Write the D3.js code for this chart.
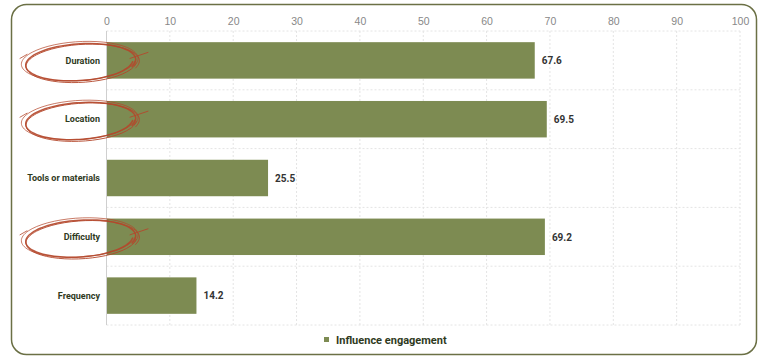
<!DOCTYPE html>
<html><head><meta charset="utf-8">
<script src="https://cdn.jsdelivr.net/npm/d3@7"></script>
<style>body{margin:0;background:#fff;} svg{display:block;font-family:Roboto,"Noto Sans",sans-serif;}</style>
</head><body>
<svg id="c" width="768" height="359"></svg>
<script>
const categories = ["Duration","Location","Tools or materials","Difficulty","Frequency"];
const values = [67.6, 69.5, 25.5, 69.2, 14.2];
const tickValues = [0,10,20,30,40,50,60,70,80,90,100];
const circled = ["Duration","Location","Difficulty"];
const seriesName = "Influence engagement";

const svg = d3.select("#c");
svg.append("rect").attr("x",11.5).attr("y",4.5).attr("width",745).attr("height",350)
  .attr("rx",15).attr("fill","#fff").attr("stroke","#6b7045").attr("stroke-width",1.5);

const x = d3.scaleLinear().domain([0,100]).range([106.5,740]);
const y = d3.scaleBand().domain(categories).range([31,325]).paddingInner(0.38).paddingOuter(0.19);
const yb = d3.scaleBand().domain(categories).range([31,325]);

// grid
const g = svg.append("g");
g.selectAll("line.v").data(tickValues.slice(1)).join("line")
  .attr("x1",d=>x(d)).attr("x2",d=>x(d)).attr("y1",31).attr("y2",325)
  .attr("stroke","#e4e4e4").attr("stroke-dasharray","2,2");
const hl = categories.map(c=>yb(c)).concat([325]);
g.selectAll("line.h").data(hl).join("line")
  .attr("x1",106.5).attr("x2",740).attr("y1",d=>d).attr("y2",d=>d)
  .attr("stroke","#e4e4e4").attr("stroke-dasharray","2,2");

// top axis
const ax = svg.append("g").attr("transform","translate(0,31)")
  .call(d3.axisTop(x).tickValues(tickValues).tickSize(0).tickPadding(6));
ax.select(".domain").remove();
ax.selectAll("text").attr("fill","#888").attr("font-size",10.5).attr("font-weight",300);

// bars
svg.selectAll("rect.bar").data(values).join("rect")
  .attr("x",x(0)).attr("y",(d,i)=>y(categories[i]))
  .attr("width",d=>x(d)-x(0)).attr("height",y.bandwidth()).attr("fill","#7d8b52");

// axis line
svg.append("line").attr("x1",106.5).attr("x2",106.5).attr("y1",31).attr("y2",325).attr("stroke","#cfcfcf");

// value labels
svg.selectAll("text.val").data(values).join("text")
  .attr("x",d=>x(d)+7).attr("y",(d,i)=>y(categories[i])+y.bandwidth()/2)
  .attr("dy","0.38em").attr("font-size",10).attr("font-weight",700).attr("fill","#333")
  .text(d=>d.toFixed(1));

// category labels
svg.selectAll("text.cat").data(categories).join("text")
  .attr("x",100).attr("y",d=>y(d)+y.bandwidth()/2).attr("dy","0.35em")
  .attr("text-anchor","end").attr("font-size",9).attr("font-weight",700).attr("fill","#2f3a1e")
  .text(d=>d);

// hand-drawn circles
const red="#b4472b";
circled.forEach((c,k)=>{
  const cy = y(c)+y.bandwidth()/2+2;
  const cx = 80, rx=56, ry=19;
  const gg = svg.append("g").attr("fill","none").attr("stroke",red).attr("stroke-linecap","round");
  [[0,0,1.5],[2,1.2,1],[-1,-1,0.8]].forEach(([dx,dy,sw],j)=>{
    const pts=[];
    for(let t=0;t<=1.06;t+=0.02){
      const a = Math.PI*0.12 - t*2*Math.PI;
      const r = 1 + 0.03*j - 0.05*t;
      pts.push([cx+dx+rx*r*Math.cos(a), cy+dy+ry*r*Math.sin(a) - 3*Math.cos(a)]);
    }
    gg.append("path").attr("d",d3.line().curve(d3.curveBasis)(pts)).attr("stroke-width",sw).attr("opacity",0.9);
  });
  gg.append("path").attr("d",`M${cx+rx-6},${cy-4} L${cx+rx+12},${cy-10}`).attr("stroke-width",0.9);
  gg.append("path").attr("d",`M${cx-rx-4},${cy-4} L${cx-rx+3},${cy-8}`).attr("stroke-width",0.8);
});

// legend
const lg = svg.append("g");
lg.append("rect").attr("x",324).attr("y",337).attr("width",5).attr("height",5).attr("fill","#7d8b52");
lg.append("text").attr("x",336).attr("y",340).attr("dy","0.35em").attr("font-size",11).attr("font-weight",700)
  .attr("fill","#2f3a1e").text(seriesName);
</script>
</body></html>
